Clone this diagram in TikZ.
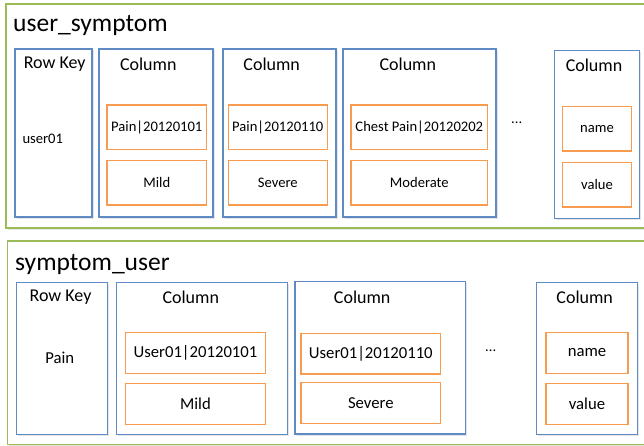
\documentclass[tikz,border=0pt]{standalone}
\usepackage{fontspec}
\setmainfont{Carlito}
\definecolor{fgreen}{RGB}{155,187,89}
\definecolor{cblue}{RGB}{96,138,196}
\definecolor{corange}{RGB}{247,155,80}
\tikzset{
  shd/.style={preaction={fill=black!#1, transform canvas={shift={(1.5pt,-1.5pt)}}}},
  frame/.style={draw=fgreen, line width=1.4pt, fill=white, shd=10},
  colbox/.style={draw=cblue, line width=1.2pt, fill=white, shd=10},
  cellbox/.style={draw=corange, line width=1.3pt, fill=white},
  ttl/.style={font=\fontsize{25.5}{28}\selectfont, anchor=base west, inner sep=0pt},
  hdr/.style={font=\fontsize{18}{20}\selectfont, inner sep=0pt},
  smt/.style={font=\fontsize{14.6}{16}\selectfont, inner sep=0pt},
  smb/.style={font=\fontsize{16.7}{18}\selectfont, inner sep=0pt},
}
\begin{document}
\begin{tikzpicture}[x=1pt,y=-1pt]
\useasboundingbox (0,0) rectangle (644,446);
\clip (0,0) rectangle (644,446);
\fill[white] (0,0) rectangle (644,446);
% ---------- top table ----------
\path[frame] (6,4) rectangle (660,228);
\node[ttl] (t1) at (13,31.7) {user\_symptom};
\path[colbox] (15,49) rectangle (92,217);
\node[hdr] (rk1) at (54.7,64.3) {Row Key};
\node[smt, anchor=west] (u01) at (22.3,139.3) {user01};

\path[colbox] (99,49) rectangle (213,217);
\node[hdr] (c11) at (148.3,64.3) {Column};
\path[cellbox] (107,105) rectangle (206.5,149.5);
\node[smt] (n11) at (156.8,127) {Pain|20120101};
\path[cellbox] (107,160.5) rectangle (206.5,205);
\node[smt] (v11) at (156.8,182.8) {Mild};

\path[colbox] (223,49) rectangle (336,217);
\node[hdr] (c12) at (271.7,64.3) {Column};
\path[cellbox] (228.5,105) rectangle (327.5,149.5);
\node[smt] (n12) at (277.8,127) {Pain|20120110};
\path[cellbox] (228.5,160.5) rectangle (327.5,205);
\node[smt] (v12) at (277.8,182.8) {Severe};

\path[colbox] (343,49) rectangle (496,217);
\node[hdr] (c13) at (407.8,64.3) {Column};
\path[cellbox] (351,105) rectangle (487.5,149.5);
\node[smt] (n13) at (419.3,127) {Chest Pain|20120202};
\path[cellbox] (351,160.5) rectangle (487.5,205);
\node[smt] (v13) at (419.3,182.7) {Moderate};

\node[smt] (d1) at (516.7,122.7) {...};

\path[colbox] (554.5,50.5) rectangle (639.5,218.5);
\node[hdr] (c14) at (594,65.7) {Column};
\path[cellbox] (562.5,106.5) rectangle (631.5,151);
\node[smt] (n14) at (597,128.8) {name};
\path[cellbox] (562.5,162.5) rectangle (631.5,207);
\node[smt] (v14) at (597,184.8) {value};

% ---------- bottom table ----------
\path[frame] (7.5,241) rectangle (660,444.5);
\node[ttl] (t2) at (15,270.7) {symptom\_user};
\path[colbox] (16.5,282.5) rectangle (107.5,434.5);
\node[hdr] (rk2) at (60.5,297.3) {Row Key};
\node[smb] (pn) at (59.8,358.3) {Pain};

\path[colbox] (116.5,282.5) rectangle (287.5,434.5);
\node[hdr] (c21) at (190.8,297.3) {Column};
\path[cellbox] (125.5,332.5) rectangle (265.5,373.5);
\node[smb] (n21) at (195.5,353) {User01|20120101};
\path[cellbox] (125.5,383.5) rectangle (265.5,424.5);
\node[smb] (v21) at (195.5,403.8) {Mild};

\path[colbox] (295,281.5) rectangle (465.5,434);
\node[hdr] (c22) at (362.2,297.3) {Column};
\path[cellbox] (301,333.5) rectangle (440.5,374);
\node[smb] (n22) at (370.8,353.7) {User01|20120110};
\path[cellbox] (301,382.5) rectangle (440.5,423.5);
\node[smb] (v22) at (370.8,403.2) {Severe};

\node[smt] (d2) at (490.7,351) {...};

\path[colbox] (536.5,282.5) rectangle (637.5,434.5);
\node[hdr] (c23) at (584.7,297.3) {Column};
\path[cellbox] (546,332.5) rectangle (628,373.5);
\node[smb] (n23) at (587,353) {name};
\path[cellbox] (546,383.5) rectangle (628,424.5);
\node[smb] (v23) at (587,403.8) {value};
\end{tikzpicture}
\end{document}
